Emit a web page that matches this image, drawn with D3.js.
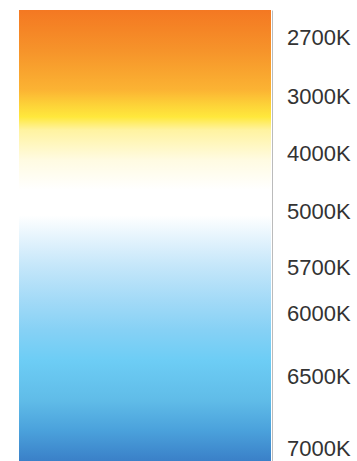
<!DOCTYPE html>
<html>
<head>
<meta charset="utf-8">
<script src="https://cdn.jsdelivr.net/npm/d3@7"></script>
<style>
  html, body { margin: 0; padding: 0; background: #fff; }
  svg { display: block; }
</style>
</head>
<body>
<svg id="chart" width="357" height="461"></svg>
<script>
// Colour temperature labels and where each sits along the bar (0 = top, 1 = bottom)
const labels = ["2700K", "3000K", "4000K", "5000K", "5700K", "6000K", "6500K", "7000K"];
const labelOffsets = [0.060, 0.191, 0.319, 0.446, 0.570, 0.672, 0.812, 0.973];

// Gradient stops along the bar
const stopOffsets = [0, 0.089, 0.177, 0.21, 0.237, 0.266, 0.333, 0.399, 0.455, 0.499, 0.565, 0.643, 0.71, 0.776, 0.865, 0.931, 1];
const stopColors = ["#f47822", "#f6932a", "#fbb333", "#fdd238", "#ffe83c", "#fff3a0", "#fffbe2", "#ffffff", "#ffffff", "#e8f5fd", "#c6e7fa", "#a3daf7", "#86d1f5", "#6dcdf5", "#60bce8", "#4ba2dc", "#3a80c8"];

const svg = d3.select("#chart");
const W = 357, H = 461;
const margin = { top: 10, left: 19, right: 86, bottom: 0 };
const barRight = 271;
const axisX = 272;

const y = d3.scaleLinear().domain([0, 1]).range([margin.top, H - margin.bottom]);

const defs = svg.append("defs");
const grad = defs.append("linearGradient")
  .attr("id", "cct")
  .attr("x1", 0).attr("y1", 0).attr("x2", 0).attr("y2", 1);
grad.selectAll("stop")
  .data(stopOffsets.map((o, i) => ({ o, c: stopColors[i] })))
  .join("stop")
  .attr("offset", d => d.o)
  .attr("stop-color", d => d.c);

svg.append("rect")
  .attr("x", margin.left)
  .attr("y", y(0))
  .attr("width", barRight - margin.left)
  .attr("height", y(1) - y(0))
  .attr("fill", "url(#cct)");

const axis = d3.axisRight(y)
  .tickValues(labelOffsets)
  .tickFormat((d, i) => labels[i])
  .tickSizeInner(0)
  .tickSizeOuter(0)
  .tickPadding(15);

const g = svg.append("g")
  .attr("transform", `translate(${axisX},0)`)
  .call(axis);

g.select(".domain").attr("stroke", "#bbbbbb").attr("stroke-width", 1);
g.selectAll(".tick line").remove();
g.selectAll(".tick text")
  .attr("fill", "#333333")
  .style("font-family", "'Liberation Sans', Arial, Helvetica, sans-serif")
  .style("font-size", "22px");
</script>
</body>
</html>
